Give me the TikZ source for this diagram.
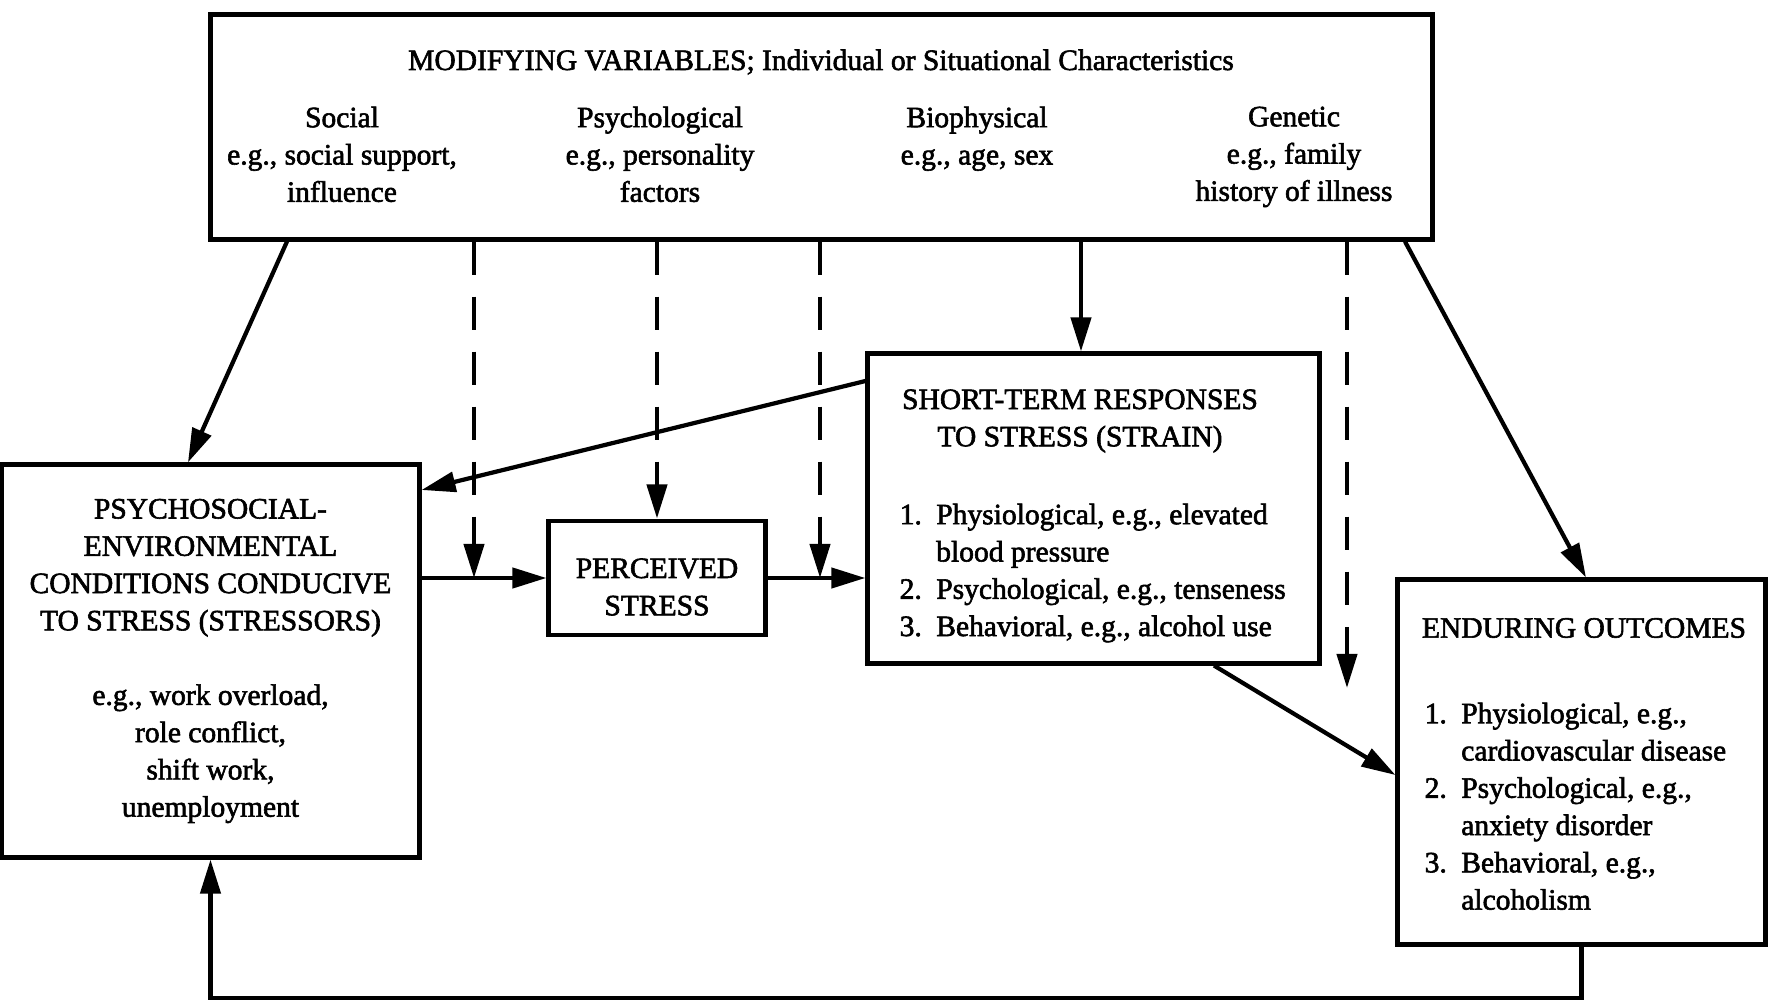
\documentclass[tikz,border=0pt]{standalone}
\usepackage{fontspec}
\setmainfont{Liberation Serif}[FakeBold=2]
\usetikzlibrary{arrows.meta}
\tikzset{
  txt/.style={align=center, inner sep=0pt, font=\fontsize{8.4}{10.6}\selectfont},
  box/.style={txt, draw, line width=1.4pt},
  link/.style={line width=1.2pt, -{Triangle[length=3.4mm,width=2mm]}},
  dashlink/.style={link, dash pattern=on 3.3mm off 2.2mm},
}
\newcommand{\itemno}[1]{\makebox[10.4pt][l]{#1}}
\begin{document}
\begin{tikzpicture}[x=0.01cm, y=-0.01cm]
  \useasboundingbox (0,0) rectangle (1768,1000);
  % boxes
  \node[box, minimum width=12.21cm, minimum height=2.24cm] (mod) at (821.5,127) {};
  \node[box, minimum width=4.17cm, minimum height=3.92cm] (stressors) at (210.5,661)
    {PSYCHOSOCIAL-\\ENVIRONMENTAL\\CONDITIONS CONDUCIVE\\TO STRESS (STRESSORS)\\[10.6pt]
     e.g., work overload,\\role conflict,\\shift work,\\unemployment};
  \node[box, minimum width=2.16cm, minimum height=1.14cm] (perceived) at (657,578) {};
  \node[box, minimum width=4.51cm, minimum height=3.09cm] (strain) at (1093.5,508.5) {};
  \node[box, minimum width=3.67cm, minimum height=3.64cm] (outcomes) at (1581.5,762) {};
  % texts of the modifying variables
  \node[txt] (modtitle) at (821,62) {MODIFYING VARIABLES; Individual or Situational Characteristics};
  \node[txt, anchor=north] (social) at (342,106) {Social\\e.g., social support,\\influence};
  \node[txt, anchor=north] (psych) at (660,106) {Psychological\\e.g., personality\\factors};
  \node[txt, anchor=north] (bio) at (977,106) {Biophysical\\e.g., age, sex};
  \node[txt, anchor=north] (gen) at (1294,106) {Genetic\\e.g., family\\history of illness};
  % texts of the other boxes
  \node[txt] (perceivedtext) at (657,587) {PERCEIVED\\STRESS};
  \node[txt] (straintitle) at (1080,421) {SHORT-TERM RESPONSES\\TO STRESS (STRAIN)};
  \node[txt, align=left, anchor=north west] (strainlist) at (899,503)
    {\itemno{1.}Physiological, e.g., elevated\\
     \itemno{}blood pressure\\
     \itemno{2.}Psychological, e.g., tenseness\\
     \itemno{3.}Behavioral, e.g., alcohol use};
  \node[txt] (outtitle) at (1584,628) {ENDURING OUTCOMES};
  \node[txt, align=left, anchor=north west] (outlist) at (1424,702)
    {\itemno{1.}Physiological, e.g.,\\
     \itemno{}cardiovascular disease\\
     \itemno{2.}Psychological, e.g.,\\
     \itemno{}anxiety disorder\\
     \itemno{3.}Behavioral, e.g.,\\
     \itemno{}alcoholism};
  % points on the main line
  \coordinate (m1) at (474,0 |- perceived.west);
  \coordinate (m2) at (820,0 |- perceived.west);
  \coordinate (m3) at (1347,688);
  % solid connectors
  \draw[link] (287,0 |- mod.south) -- (188,0 |- stressors.north);
  \draw[link] (strain.west |- 0,381) -- (stressors.east |- 0,490);
  \draw[link] (stressors.east |- perceived.west) -- (perceived.west);
  \draw[link] (perceived.east) -- (strain.west |- perceived.east);
  \draw[link] (1081,0 |- mod.south) -- (1081,0 |- strain.north);
  \draw[link] (1405,0 |- mod.south) -- (1586,0 |- outcomes.north);
  \draw[link] (1214,0 |- strain.south) -- (outcomes.west |- 0,775);
  \draw[link] (outcomes.south) -- ++(0,52) -| (stressors.south);
  % dashed connectors
  \draw[dashlink] (m1 |- mod.south) -- (m1);
  \draw[dashlink] (perceived.north |- mod.south) -- (perceived.north);
  \draw[dashlink] (m2 |- mod.south) -- (m2);
  \draw[dashlink] (m3 |- mod.south) -- (m3);
\end{tikzpicture}
\end{document}
